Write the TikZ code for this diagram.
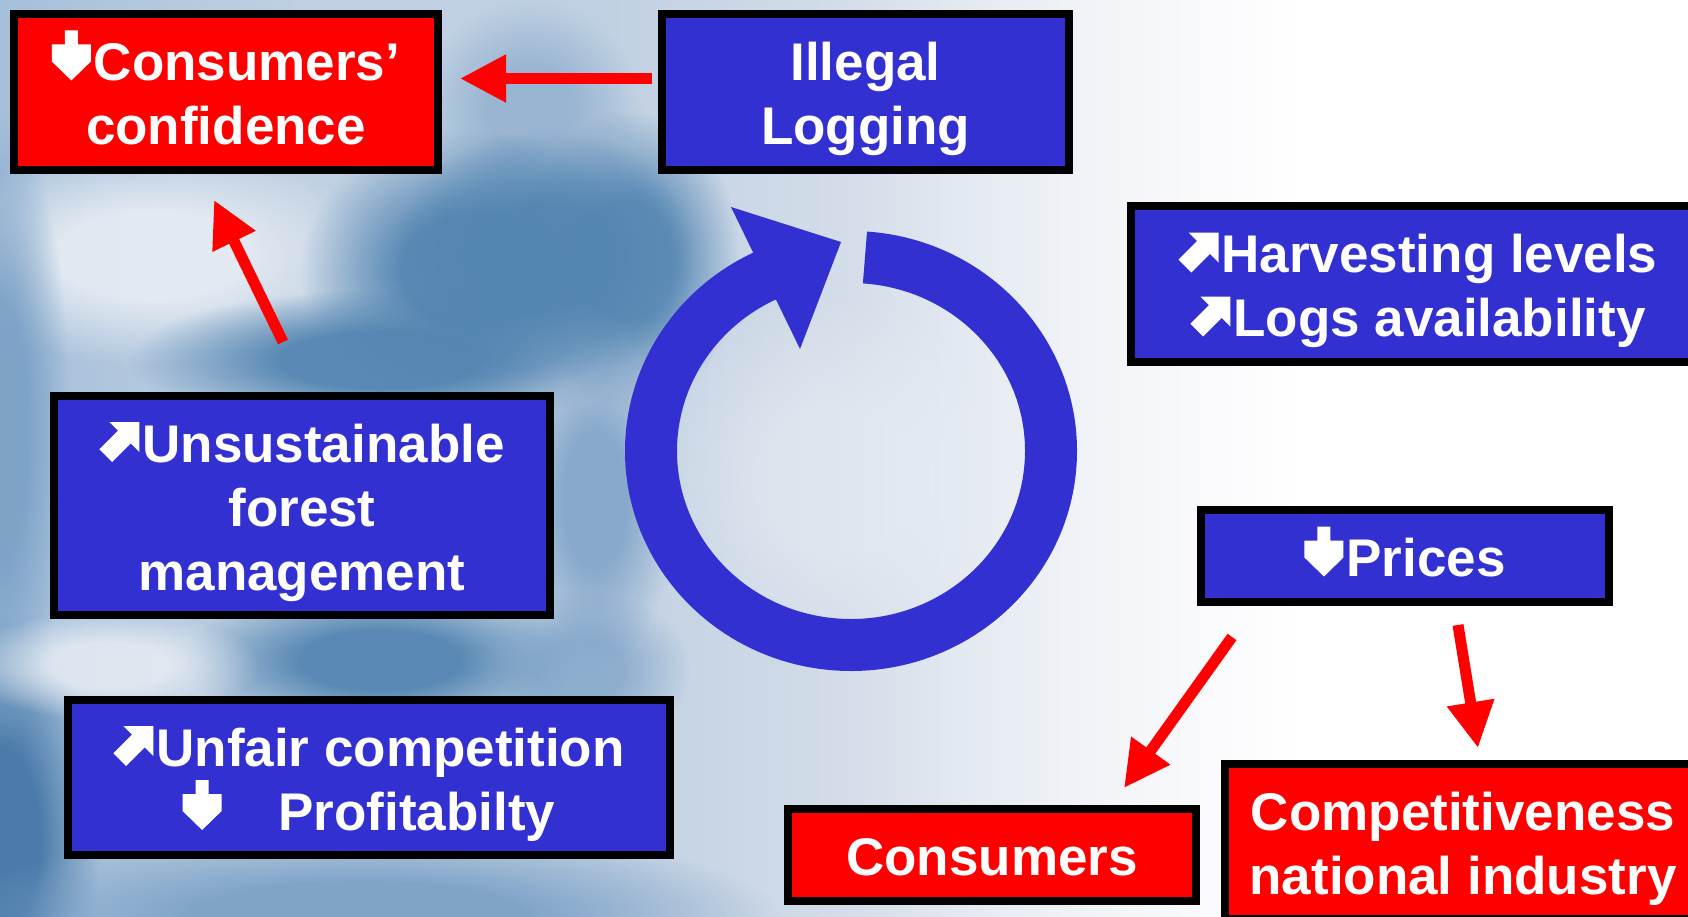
\documentclass[tikz,border=0pt]{standalone}
\usepackage{fontspec}
\setmainfont{Liberation Sans}
\usetikzlibrary{arrows.meta,calc,fadings}
\definecolor{boxblue}{RGB}{50,48,208}
\definecolor{arrred}{RGB}{255,0,0}
\definecolor{bg0}{RGB}{165,192,218}
\definecolor{bg1}{RGB}{192,208,226}
\definecolor{bg2}{RGB}{212,221,233}
\definecolor{bg3}{RGB}{232,237,243}
\definecolor{bg4}{RGB}{246,247,250}
\definecolor{dk}{RGB}{84,134,178}
\definecolor{dkk}{RGB}{70,120,168}
\definecolor{md}{RGB}{122,160,198}
\definecolor{lt}{RGB}{234,239,245}
\pgfdeclarehorizontalshading{bgshade}{100bp}{color(0bp)=(bg0); color(25bp)=(bg0); color(33.9bp)=(bg1); color(42.8bp)=(bg1); color(50.2bp)=(bg2); color(54.6bp)=(bg3); color(59.1bp)=(bg4); color(63.5bp)=(white); color(100bp)=(white)}
\pgfdeclareradialshading{blobshade}{\pgfpointorigin}{color(0bp)=(pgftransparent!0); color(10bp)=(pgftransparent!0); color(25bp)=(pgftransparent!100); color(50bp)=(pgftransparent!100)}
\pgfdeclarefading{flatblob}{\pgfuseshading{blobshade}}
\newcommand\mydn{\tikz[baseline=0pt,x=1pt,y=1pt]\fill[white] (19.5,0) -- (0,19) -- (0,36) -- (13,36) -- (13,50) -- (26,50) -- (26,36) -- (39,36) -- (39,19) -- cycle;}
\newcommand\myne{\tikz[baseline=0pt,x=1pt,y=1pt]\fill[white] (40,40) -- (10,40) -- (18.6,31.4) -- (0,12.8) -- (12.8,0) -- (31.4,18.6) -- (40,10) -- cycle;}
\newcommand\ftop{\rule{0pt}{55pt}}
\newcommand\fbot{\rule[-14pt]{0pt}{14pt}}
\begin{document}
\begin{tikzpicture}[x=1pt,y=-1pt,
  box/.style={draw=black,line width=8pt,inner sep=0pt,text=white,align=center,
    font=\bfseries\fontsize{53}{64}\selectfont},
  bluebox/.style={box,fill=boxblue},
  redbox/.style={box,fill=arrred},
  redarr/.style={draw=arrred,line width=11pt,-{Triangle[length=46pt,width=45pt]}},
  blob/.style={path fading=flatblob}]
\useasboundingbox (0,0) rectangle (1688,917);
\clip (0,0) rectangle (1688,917);
% background sky
\shade[shading=bgshade] (0,0) rectangle (1688,917);
\fill[lt,opacity=.85,blob] (150,255) ellipse [x radius=230pt,y radius=110pt];
\fill[md,opacity=.55,blob] (530,110) ellipse [x radius=110pt,y radius=110pt];
\fill[dk,opacity=.95,blob] (470,270) ellipse [x radius=170pt,y radius=140pt];
\fill[dk,opacity=.9,blob] (545,255) ellipse [x radius=150pt,y radius=125pt];
\fill[dk,opacity=.9,blob] (630,260) ellipse [x radius=110pt,y radius=150pt];
\fill[dk,opacity=.95,blob] (380,360) ellipse [x radius=250pt,y radius=70pt];
\fill[dk,opacity=.95,blob] (380,660) ellipse [x radius=200pt,y radius=75pt];
\fill[md,opacity=.7,blob] (580,670) ellipse [x radius=110pt,y radius=80pt];
\fill[dkk,opacity=.95,blob] (0,840) ellipse [x radius=100pt,y radius=230pt];
\fill[md,opacity=.9,blob] (0,430) ellipse [x radius=70pt,y radius=320pt];
\fill[md,opacity=.8,blob] (595,500) ellipse [x radius=80pt,y radius=170pt];
\fill[md,opacity=.9,blob] (360,917) ellipse [x radius=420pt,y radius=90pt];
\fill[lt,opacity=.8,blob] (110,665) ellipse [x radius=150pt,y radius=55pt];
\fill[lt,opacity=.5,blob] (840,480) ellipse [x radius=200pt,y radius=190pt];
% cycle arrow
\begin{scope}[shift={(851,451)},x=1pt,y=1pt]
  \draw[boxblue,line width=52pt] ({200*cos(86)},{194*sin(86)}) arc[start angle=86,end angle=-245,x radius=200,y radius=194];
\end{scope}
\fill[boxblue] (731,207) -- (841,242) -- (800,349) -- cycle;
% boxes
\node[redbox,minimum width=424pt,minimum height=156pt] (conf) at (226,92) {\ftop\mydn\hspace{3pt}Consumers’\\confidence\fbot};
\node[bluebox,minimum width=407pt,minimum height=156pt] (illegal) at (865.5,92) {\ftop Illegal\\Logging\fbot};
\node[bluebox,minimum width=574pt,minimum height=156pt] (harvest) at (1418,284) {\ftop\myne\hspace{3pt}Harvesting levels\\\myne\hspace{3pt}Logs availability\fbot};
\node[bluebox,minimum width=496pt,minimum height=219pt] (unsust) at (302,505.5) {\ftop\myne\hspace{3pt}Unsustainable\\forest\\management\fbot};
\node[bluebox,minimum width=602pt,minimum height=155pt] (unfair) at (369,777.5) {\ftop\myne\hspace{3pt}Unfair competition\\\mydn\hspace{57pt}Profitabilty\fbot};
\node[bluebox,minimum width=408pt,minimum height=92pt] (prices) at (1405,556) {\ftop\mydn\hspace{3pt}Prices\fbot};
\node[redbox,minimum width=408pt,minimum height=92pt] (consumers) at (992,855) {\ftop Consumers\fbot};
\node[redbox,minimum width=476pt,minimum height=155pt] (compet) at (1463,841.5) {\ftop Competitiveness\\national industry\fbot};
% connectors
\draw[redarr] ($(illegal.west)+(-6,-13.5)$) -- ($(conf.east)+(18,-13.5)$);
\draw[redarr] ($(unsust.north)+(-19,-50)$) -- ($(conf.south)+(-12,26)$);
\draw[redarr] ($(prices.south)+(-173,31)$) -- ($(consumers.north)+(132,-17)$);
\draw[redarr] ($(prices.south)+(53,19)$) -- ($(compet.north)+(15,-12)$);
\end{tikzpicture}
\end{document}
